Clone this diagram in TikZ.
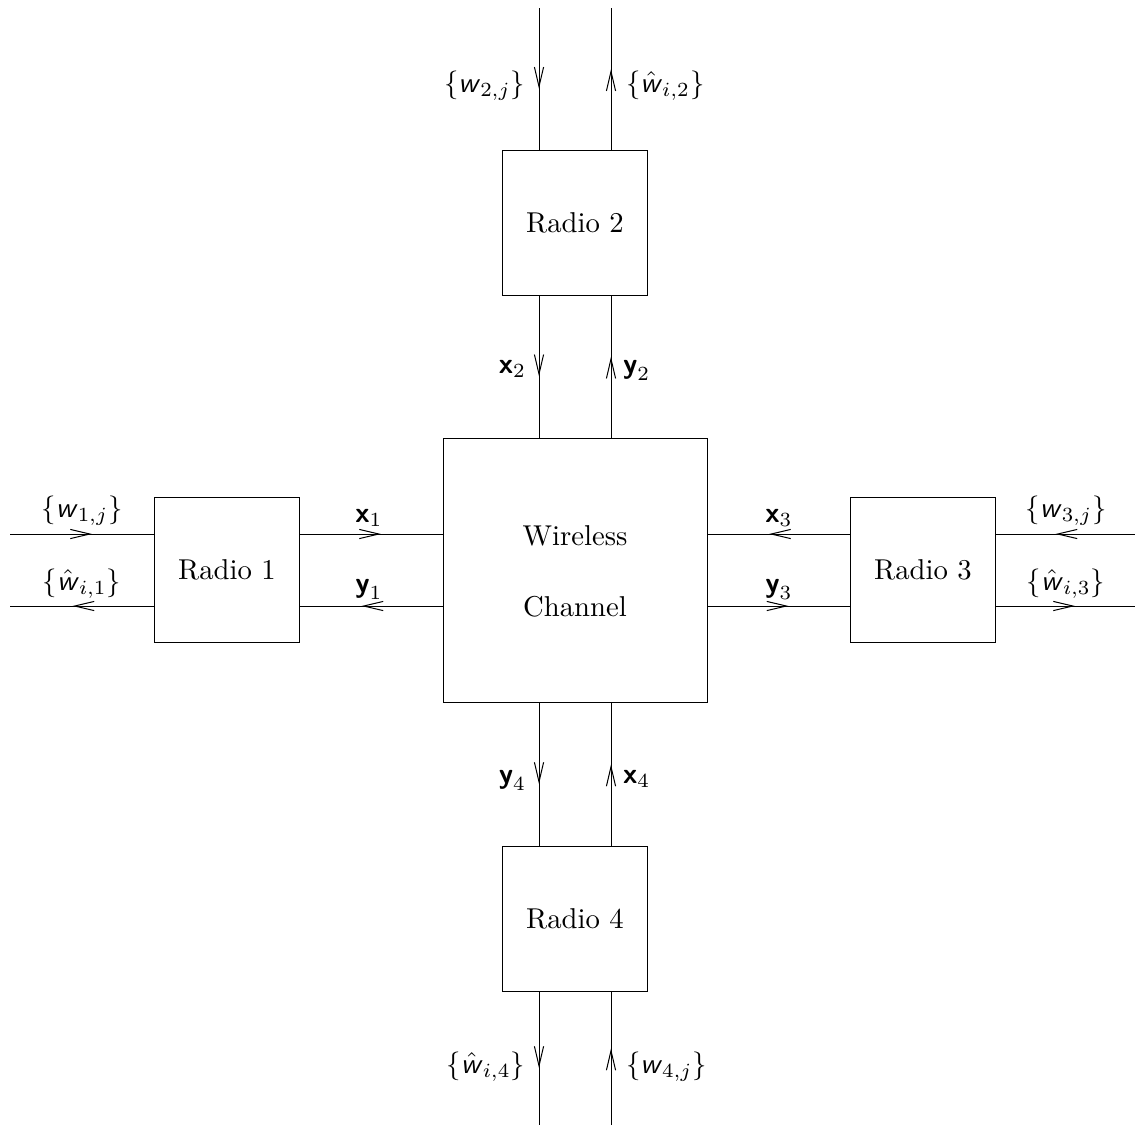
\documentclass[tikz,border=0pt]{standalone}
\usetikzlibrary{arrows.meta,decorations.markings}
\newcommand{\wv}{\textsf{\textit{w}}}
\newcommand{\wh}{\hat{\mbox{\textsf{\textit{w}}}}}
\newcommand{\xv}{\textsf{\textbf{x}}}
\newcommand{\yv}{\textsf{\textbf{y}}}
\tikzset{
  blk/.style={draw, line width=0.35pt, inner sep=0pt, outer sep=0pt},
  flow/.style={line width=0.35pt, postaction={decorate},
    decoration={markings, mark=at position 0.5 with
      {\pgftransformxshift{3.4pt}\arrow{Straight Barb[length=6.8pt,width=3.2pt]}}}},
  lab/.style={inner sep=0pt, outer sep=0pt}
}
\begin{document}
\begin{tikzpicture}[x=0.3484pt, y=-0.3484pt]
  \useasboundingbox (0,0) rectangle (1135,1133);

  % blocks
  \node[blk, minimum size={264*0.3484pt}] (C) at (575,570) {};
  \node[lab, anchor=base] (chA) at (575,545) {Wireless};
  \node[lab, anchor=base] (chB) at (575,616) {Channel};
  \node[blk, minimum size={145*0.3484pt}] (R2) at (575,222.5) {Radio 2};
  \node[blk, minimum size={145*0.3484pt}] (R1) at (227,570) {Radio 1};
  \node[blk, minimum size={145*0.3484pt}] (R3) at (923,570) {Radio 3};
  \node[blk, minimum size={145*0.3484pt}] (R4) at (575,919) {Radio 4};

  % free ends
  \coordinate (t1) at (539,8);    \coordinate (t2) at (611,8);
  \coordinate (b1) at (539,1125); \coordinate (b2) at (611,1125);
  \coordinate (l1) at (10,534);   \coordinate (l2) at (10,606);
  \coordinate (r1) at (1135,534); \coordinate (r2) at (1135,606);

  % radio 2
  \draw[flow] (t1) -- (t1 |- R2.north);
  \draw[flow] (t2 |- R2.north) -- (t2);
  \draw[flow] (R2.south -| t1) -- (C.north -| t1);
  \draw[flow] (C.north -| t2) -- (R2.south -| t2);
  % radio 1
  \draw[flow] (l1) -- (l1 -| R1.west);
  \draw[flow] (l2 -| R1.west) -- (l2);
  \draw[flow] (R1.east |- l1) -- (C.west |- l1);
  \draw[flow] (C.west |- l2) -- (R1.east |- l2);
  % radio 3
  \draw[flow] (R3.west |- r1) -- (C.east |- r1);
  \draw[flow] (C.east |- r2) -- (R3.west |- r2);
  \draw[flow] (r1) -- (r1 -| R3.east);
  \draw[flow] (r2 -| R3.east) -- (r2);
  % radio 4
  \draw[flow] (C.south -| b1) -- (R4.north -| b1);
  \draw[flow] (R4.north -| b2) -- (C.south -| b2);
  \draw[flow] (R4.south -| b1) -- (b1);
  \draw[flow] (b2) -- (R4.south -| b2);

  % labels
  \node[lab, anchor=base east] (la) at (525,92) {$\{\wv_{2,j}\}$};
  \node[lab, anchor=base west] (lb) at (626,92) {$\{\wh_{i,2}\}$};
  \node[lab, anchor=base east] (lc) at (526,373) {$\xv_2$};
  \node[lab, anchor=base west] (ld) at (623,373) {$\yv_2$};
  \node[lab, anchor=base] (le) at (82,517) {$\{\wv_{1,j}\}$};
  \node[lab, anchor=base] (lf) at (82,590) {$\{\wh_{i,1}\}$};
  \node[lab, anchor=base] (lg) at (369,522) {$\xv_1$};
  \node[lab, anchor=base] (lh) at (369,592) {$\yv_1$};
  \node[lab, anchor=base] (li) at (779,522) {$\xv_3$};
  \node[lab, anchor=base] (lj) at (779,592) {$\yv_3$};
  \node[lab, anchor=base] (lk) at (1066,517) {$\{\wv_{3,j}\}$};
  \node[lab, anchor=base] (ll) at (1066,590) {$\{\wh_{i,3}\}$};
  \node[lab, anchor=base east] (lm) at (526,783) {$\yv_4$};
  \node[lab, anchor=base west] (ln) at (623,783) {$\xv_4$};
  \node[lab, anchor=base east] (lo) at (525,1073) {$\{\wh_{i,4}\}$};
  \node[lab, anchor=base west] (lp) at (626,1073) {$\{\wv_{4,j}\}$};
\end{tikzpicture}
\end{document}
